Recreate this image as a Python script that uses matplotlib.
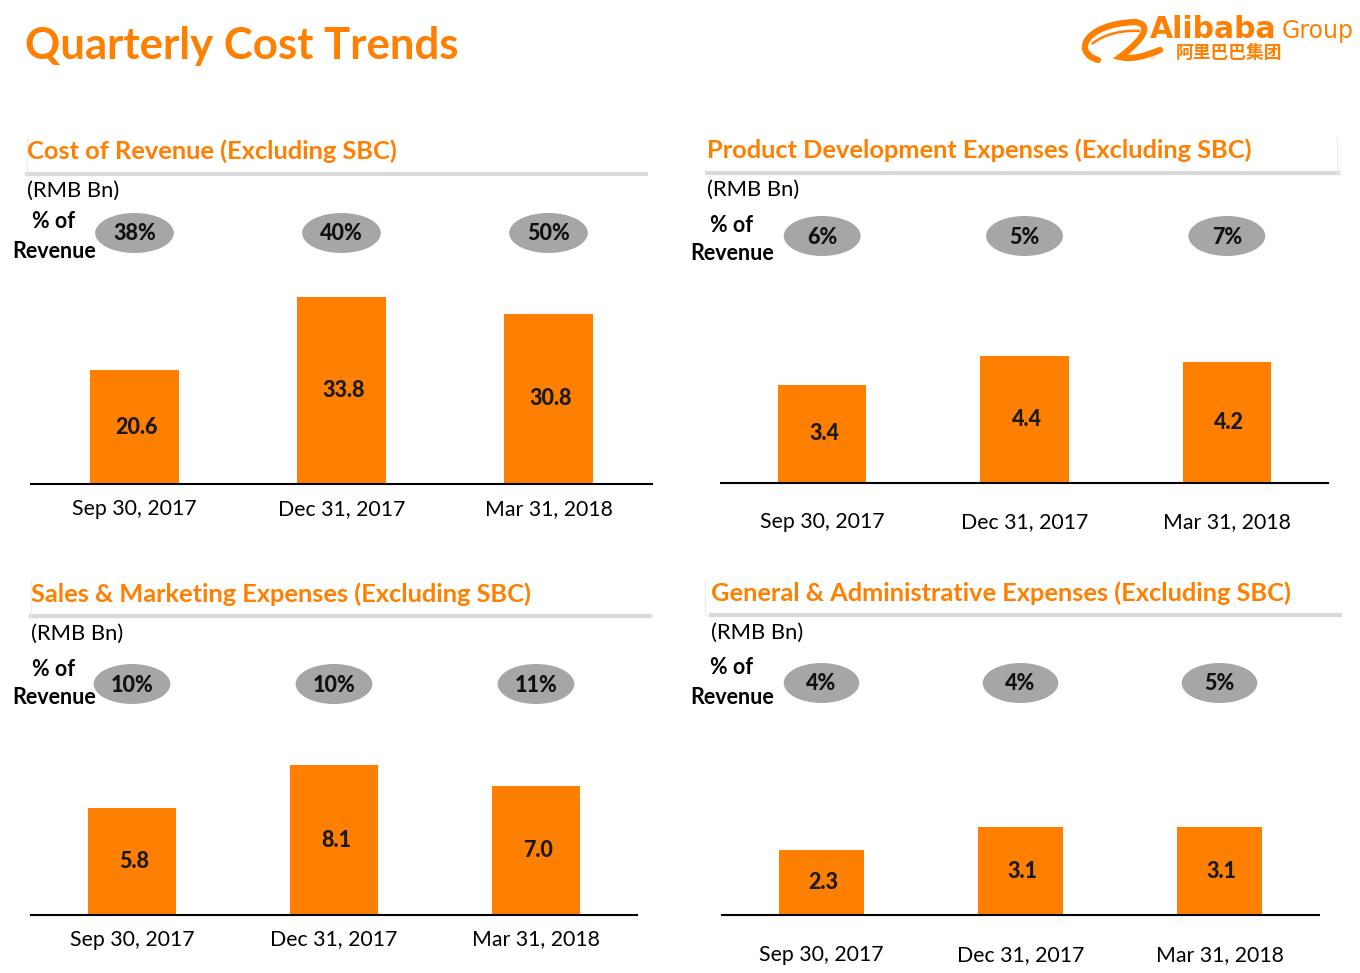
import matplotlib
matplotlib.use("Agg")
import matplotlib.pyplot as plt
from matplotlib.patches import Ellipse, PathPatch
from matplotlib.path import Path
from matplotlib.transforms import blended_transform_factory

plt.rcParams['font.family'] = ['Lato', 'DejaVu Sans']

W, H = 1360, 973
ORANGE = "#FF7F00"
GRAY = "#A6A6A6"

# data
quarters = ["Sep 30, 2017", "Dec 31, 2017", "Mar 31, 2018"]
cost_of_revenue = [20.6, 33.8, 30.8]
cost_of_revenue_pct = ["38%", "40%", "50%"]
product_dev = [3.4, 4.4, 4.2]
product_dev_pct = ["6%", "5%", "7%"]
sales_marketing = [5.8, 8.1, 7.0]
sales_marketing_pct = ["10%", "10%", "11%"]
general_admin = [2.3, 3.1, 3.1]
general_admin_pct = ["4%", "4%", "5%"]

panel_titles = ["Cost of Revenue (Excluding SBC)",
                "Product Development Expenses (Excluding SBC)",
                "Sales & Marketing Expenses (Excluding SBC)",
                "General & Administrative Expenses (Excluding SBC)"]


def fx(x):
    return x / W


def fy(y):
    return 1 - y / H


fig = plt.figure(figsize=(W / 100, H / 100), dpi=100)
fig.patch.set_facecolor("white")

fig.text(fx(25), fy(46), "Quarterly Cost Trends", color=ORANGE, fontsize=31.5,
         fontweight="bold", ha="left", va="center")

# logo
fig.text(fx(1150), fy(30), "Alibaba", color=ORANGE, fontsize=21.5, fontweight="bold",
         ha="left", va="center", family="DejaVu Sans")
fig.text(fx(1282), fy(31), "Group", color=ORANGE, fontsize=17, ha="left", va="center",
         family="DejaVu Sans")
fig.text(fx(1176), fy(53), "阿里巴巴集团", color=ORANGE, fontsize=12.8, fontweight="bold",
         ha="left", va="center", family=["Noto Sans CJK SC", "DejaVu Sans"])
fig.text(fx(1152), fy(57), "®", color=ORANGE, fontsize=5, ha="center", va="center")
swoosh = Path([(fx(1098), fy(60)), (fx(1072), fy(52)), (fx(1085), fy(24)), (fx(1135), fy(22)),
               (fx(1150), fy(24)), (fx(1148), fy(36)), (fx(1120), fy(57)),
               (fx(1132), fy(60)), (fx(1145), fy(56)), (fx(1160), fy(50))],
              [Path.MOVETO, Path.CURVE4, Path.CURVE4, Path.CURVE4,
               Path.CURVE4, Path.CURVE4, Path.CURVE4,
               Path.CURVE4, Path.CURVE4, Path.CURVE4])
fig.add_artist(PathPatch(swoosh, fill=False, edgecolor=ORANGE, lw=4.5,
                         transform=fig.transFigure, capstyle="round"))
face = Path([(fx(1092), fy(44)), (fx(1105), fy(33)), (fx(1125), fy(30)), (fx(1140), fy(31))],
            [Path.MOVETO, Path.CURVE4, Path.CURVE4, Path.CURVE4])
fig.add_artist(PathPatch(face, fill=False, edgecolor=ORANGE, lw=1.8, transform=fig.transFigure))

# panel layout in pixels: axes left/right/baseline/top, px per unit, title x/y,
# rule y/right end, side rule x, tick label pad, bubble y, "% of" y/x
panels = [
    dict(vals=cost_of_revenue, pct=cost_of_revenue_pct, left=31, right=652, base=484,
         top=205, scale=5.53, tx=27, ty=151, ry=174, rr=646, vx=27, pad=11, ey=233, oy=222,
         ox=54, bw=0.43),
    dict(vals=product_dev, pct=product_dev_pct, left=721, right=1328, base=483,
         top=205, scale=28.85, tx=707, ty=150, ry=173, rr=1338, vx=1337, pad=21, ey=236, oy=225,
         ox=732, bw=0.435),
    dict(vals=sales_marketing, pct=sales_marketing_pct, left=31, right=637, base=915,
         top=655, scale=18.5, tx=31, ty=594, ry=616, rr=650, vx=31, pad=10.5, ey=684, oy=669,
         ox=54, bw=0.435),
    dict(vals=general_admin, pct=general_admin_pct, left=722, right=1319, base=915,
         top=655, scale=28.35, tx=711, ty=593, ry=615, rr=1340, vx=705, pad=21.5, ey=683, oy=668,
         ox=732, bw=0.43),
]

for p, title in zip(panels, panel_titles):
    ax = fig.add_axes([fx(p["left"]), fy(p["base"]), fx(p["right"] - p["left"]),
                       (p["base"] - p["top"]) / H])
    x = range(len(quarters))
    bars = ax.bar(x, p["vals"], width=p["bw"], color=ORANGE, zorder=2)
    for b, v in zip(bars, p["vals"]):
        ax.text(b.get_x() + b.get_width() / 2 + 0.01, v / 2, f"{v:.1f}", ha="center",
                va="center", fontsize=15.5, fontweight="black", color="#1a1a1a")
    ax.set_xlim(-0.5, 2.5)
    ax.set_ylim(0, (p["base"] - p["top"]) / p["scale"])
    ax.set_xticks(list(x))
    ax.set_xticklabels(quarters, fontsize=15.3)
    ax.tick_params(axis="x", length=0, pad=p["pad"])
    ax.set_yticks([])
    for s in ["left", "right", "top"]:
        ax.spines[s].set_visible(False)
    ax.spines["bottom"].set_linewidth(1.5)
    ax.patch.set_alpha(0)

    # percent of revenue bubbles
    tr = blended_transform_factory(ax.transData, fig.transFigure)
    for i, label in enumerate(p["pct"]):
        ax.add_artist(Ellipse((i, fy(p["ey"])), 0.38, 40 / H, transform=tr,
                              facecolor=GRAY, edgecolor="none", clip_on=False))
        ax.text(i, fy(p["ey"] + 1), label, transform=tr, ha="center", va="center",
                fontsize=15.5, fontweight="black", color="#111111")

    fig.text(fx(p["ox"]), fy(p["oy"]), "% of", ha="center", va="center", fontsize=15.5,
             fontweight="bold")
    fig.text(fx(p["ox"]), fy(p["oy"] + 29), "Revenue", ha="center", va="center",
             fontsize=15.5, fontweight="bold")

    fig.text(fx(p["tx"]), fy(p["ty"]), title, color=ORANGE, fontsize=18.3, fontweight="bold",
             ha="left", va="center")
    fig.text(fx(p["tx"]), fy(p["ty"] + 40), "(RMB Bn)", fontsize=15.8, ha="left", va="center")
    fig.add_artist(plt.Line2D([fx(p["tx"]), fx(p["rr"])], [fy(p["ry"]), fy(p["ry"])],
                              color="#D9D9D9", lw=3, transform=fig.transFigure))
    fig.add_artist(plt.Line2D([fx(p["vx"]), fx(p["vx"])], [fy(p["ry"] - 36), fy(p["ry"])],
                              color="#EEEEEE", lw=1, transform=fig.transFigure))

fig.savefig("out.png", dpi=100, facecolor="white")
